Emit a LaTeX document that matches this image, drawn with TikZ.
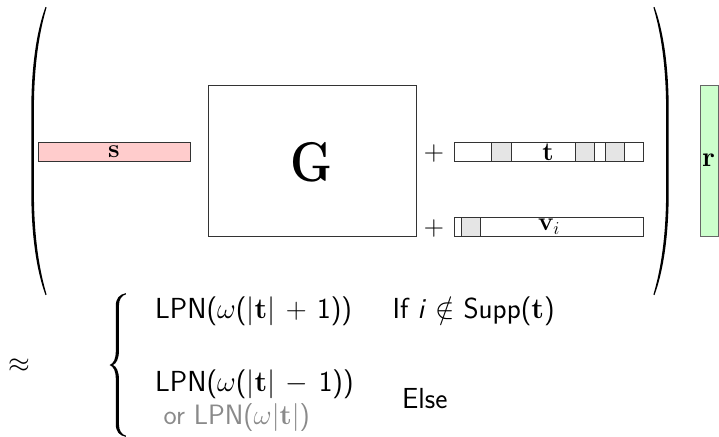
\RequirePackage{fix-cm}
\documentclass[tikz,border=0pt]{standalone}
\usepackage{amsmath}
\definecolor{spink}{HTML}{FFCCCC}
\definecolor{rgreen}{HTML}{CCFFCC}
\definecolor{cellgray}{HTML}{E5E5E5}
\definecolor{txtgray}{HTML}{8A8A8A}
\newcommand{\wideop}[1]{\medmuskip=6.5mu\relax #1}
\begin{document}
\begin{tikzpicture}[x=1pt,y=-1pt,
  box/.style={draw=black!80, line width=0.8pt},
  cell/.style={draw=black!80, line width=0.8pt, fill=cellgray},
  lbl/.style={inner sep=0pt, font=\fontsize{26}{30}\selectfont},
  bigm/.style={inner sep=0pt, font=\fontsize{28}{32}\selectfont},
  txt/.style={inner sep=0pt, anchor=base west, font=\fontsize{29}{33}\selectfont\sffamily},
  graytxt/.style={inner sep=0pt, anchor=base west, text=txtgray, font=\fontsize{28}{30}\selectfont\sffamily},
  delim/.style={fill=black, draw=none}]
\useasboundingbox (0,0) rectangle (719,436);

% s vector
\draw[box, fill=spink] (38,142) rectangle (190,161);
\node[lbl] (s) at (114,151.5) {$\mathbf{s}$};

% G matrix
\draw[box] (208.3,85) rectangle (416.5,236.5);
\node[inner sep=0pt, font=\fontsize{56}{60}\selectfont, xscale=0.85] (G) at (312,162.3) {$\mathbf{G}$};

% plus signs
\node[bigm] (p1) at (434,153) {$+$};
\node[bigm] (p2) at (434,228) {$+$};

% t vector
\draw[box] (454,142) rectangle (643,161);
\draw[cell] (491.7,142) rectangle (511.3,161);
\draw[cell] (575.5,142) rectangle (594.5,161);
\draw[cell] (605.5,142) rectangle (624.5,161);
\node[lbl] (t) at (548,152) {$\mathbf{t}$};

% v_i vector
\draw[box] (454,217.5) rectangle (643,236.5);
\draw[cell] (461.3,217.5) rectangle (480.3,236.5);
\node[lbl] (v) at (549,227) {$\mathbf{v}_i$};

% r vector
\draw[box, draw=black!60, fill=rgreen] (700,85) rectangle (718.3,236.7);
\node[inner sep=0pt, font=\fontsize{28}{30}\selectfont] (r) at (708.5,160.5) {$\mathbf{r}$};

% parentheses
\fill[delim] (45.5,7) .. controls (37,30) and (31.3,65) .. (31.3,110) -- (31.3,192)
  .. controls (31.3,237) and (37,272) .. (45.5,295) -- (46.6,294.6)
  .. controls (39.2,270) and (33.9,236) .. (33.9,192) -- (33.9,110)
  .. controls (33.9,66) and (39.2,32) .. (46.6,7.4) -- cycle;
\begin{scope}[xshift=700pt, xscale=-1]
\fill[delim] (45.5,7) .. controls (37,30) and (31.3,65) .. (31.3,110) -- (31.3,192)
  .. controls (31.3,237) and (37,272) .. (45.5,295) -- (46.6,294.6)
  .. controls (39.2,270) and (33.9,236) .. (33.9,192) -- (33.9,110)
  .. controls (33.9,66) and (39.2,32) .. (46.6,7.4) -- cycle;
\end{scope}

% approx and brace
\node[bigm] (ap) at (19,366) {$\approx$};
\fill[delim] (125.8,293.2) .. controls (119.5,294.5) and (115.8,298) .. (115.8,306) -- (115.8,351)
  .. controls (115.8,359) and (113.6,363.5) .. (109.6,365)
  .. controls (113.6,366.5) and (115.8,371) .. (115.8,379) -- (115.8,424)
  .. controls (115.8,432) and (119.5,435.5) .. (125.8,436.8) -- (125.8,435.6)
  .. controls (121.8,434.5) and (118.9,431) .. (118.9,424) -- (118.9,379)
  .. controls (118.9,371.5) and (116.5,366.5) .. (113,365)
  .. controls (116.5,363.5) and (118.9,358.5) .. (118.9,351) -- (118.9,306)
  .. controls (118.9,299) and (121.8,295.5) .. (125.8,294.4) -- cycle;

% cases
\node[txt] (c1) at (155,318) {LPN($\omega$($\wideop{|\mathbf{t}|+{}}$1))};
\node[txt] (i1) at (392.5,318) {If \textit{i} $\notin$ Supp($\mathbf{t}$)};
\node[txt] (c2) at (155,391) {LPN($\omega$($\wideop{|\mathbf{t}|-{}}$1))};
\node[graytxt] (c3) at (163.5,424) {or LPN($\omega|\mathbf{t}|$)};
\node[txt] (e2) at (402,408) {Else};
\end{tikzpicture}
\end{document}
